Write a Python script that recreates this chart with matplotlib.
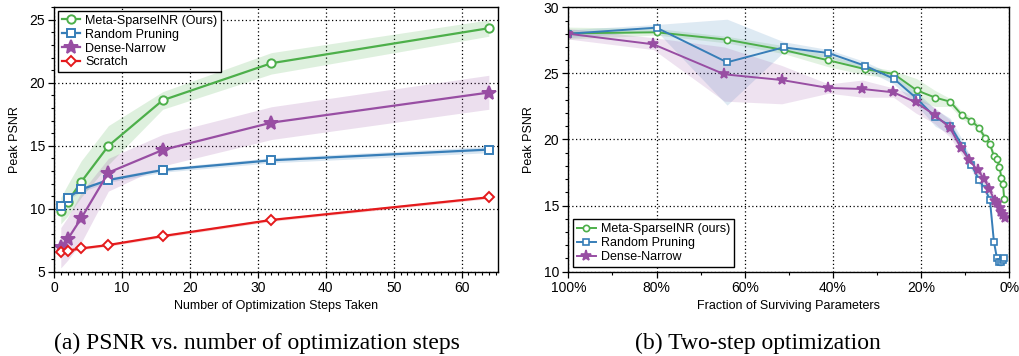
import numpy as np
import matplotlib
matplotlib.use("Agg")
import matplotlib.pyplot as plt
from matplotlib.ticker import MultipleLocator, FuncFormatter

plt.rcParams['font.family'] = ['Liberation Sans', 'DejaVu Sans']

GREEN = '#4daf4a'
BLUE = '#377eb8'
PURPLE = '#984ea3'
RED = '#e41a1c'

# (a) PSNR vs optimization steps
steps = [1, 2, 4, 8, 16, 32, 64]
meta_a = [9.85, 10.56, 12.13, 14.99, 18.62, 21.56, 24.34]
meta_a_lo = [8.8, 9.4, 10.9, 13.5, 17.9, 20.7, 23.7]
meta_a_hi = [10.9, 11.9, 13.8, 16.6, 19.3, 22.4, 25.0]
rand_a = [10.22, 10.88, 11.54, 12.28, 13.08, 13.85, 14.70]
rand_a_lo = [10.05, 10.7, 11.35, 12.1, 12.9, 13.65, 14.45]
rand_a_hi = [10.4, 11.05, 11.7, 12.45, 13.25, 14.05, 14.95]
dense_a = [6.99, 7.57, 9.24, 12.87, 14.67, 16.84, 19.23]
dense_a_lo = [5.3, 5.9, 7.3, 11.4, 13.4, 15.5, 17.9]
dense_a_hi = [8.5, 9.3, 11.3, 14.0, 15.9, 18.1, 20.6]
scratch_a = [6.54, 6.67, 6.85, 7.12, 7.83, 9.11, 10.91]
scratch_a_lo = [6.44, 6.57, 6.75, 7.02, 7.72, 9.0, 10.8]
scratch_a_hi = [6.64, 6.77, 6.95, 7.22, 7.94, 9.22, 11.02]

# (b) two-step optimization, x = % surviving parameters
frac_b = [100, 80, 64, 51.2, 41.0, 32.8, 26.2, 21.0, 16.8, 13.4, 10.7,
          8.6, 6.9, 5.5, 4.4, 3.5, 2.8, 2.25, 1.8, 1.44, 1.15]
meta_b = [28.03, 28.11, 27.55, 26.77, 25.99, 25.33, 24.96, 23.72, 23.17, 22.86,
          21.83, 21.42, 20.89, 20.14, 19.66, 18.75, 18.52, 17.94, 17.11, 16.61, 15.47]
meta_b_lo = [27.6, 27.9, 27.3, 26.5, 25.5, 24.9, 24.6, 22.9, 22.5, 22.5,
             21.55, 21.15, 20.6, 19.85, 19.35, 18.45, 18.2, 17.65, 16.8, 16.3, 15.2]
meta_b_hi = [28.5, 28.4, 27.8, 27.1, 26.4, 25.6, 25.2, 24.6, 23.7, 23.1,
             22.1, 21.7, 21.15, 20.4, 19.95, 19.05, 18.8, 18.2, 17.4, 16.9, 15.75]
rand_b = [28.0, 28.46, 25.84, 26.97, 26.54, 25.59, 24.6, 23.11, 21.68, 21.05,
          19.54, 18.1, 16.95, 16.24, 15.43, 12.28, 11.0, 10.72, 10.7, 10.85, 11.05]
rand_b_lo = [27.7, 28.2, 22.6, 26.6, 26.2, 25.3, 24.2, 22.6, 21.0, 20.4,
             19.1, 17.7, 16.6, 15.9, 15.0, 11.9, 10.6, 10.4, 10.4, 10.55, 10.8]
rand_b_hi = [28.3, 28.7, 29.1, 27.4, 26.8, 25.9, 24.9, 23.6, 22.3, 21.6,
             20.0, 18.5, 17.3, 16.6, 15.8, 12.7, 11.35, 11.0, 11.0, 11.15, 11.3]
frac_dense = [100, 80.7, 64.6, 51.6, 41.0, 33.3, 26.3, 21.2, 16.9, 13.5, 10.9,
              9.05, 7.17, 5.66, 4.52, 3.3, 2.7, 2.2, 1.8, 1.45, 1.05]
dense_b = [28.0, 27.2, 24.93, 24.5, 23.9, 23.82, 23.57, 22.81, 21.85, 20.9,
           19.33, 18.42, 17.66, 17.0, 16.24, 15.36, 15.17, 14.79, 14.5, 14.28, 14.03]
dense_b_lo = [27.6, 26.8, 22.9, 22.7, 23.5, 23.2, 23.2, 22.0, 21.2, 20.2,
              18.9, 18.0, 17.25, 16.6, 15.85, 14.95, 14.8, 14.4, 14.1, 13.9, 13.65]
dense_b_hi = [28.4, 27.7, 27.0, 25.6, 24.2, 24.5, 23.9, 23.3, 22.4, 21.5,
              19.75, 18.85, 18.05, 17.4, 16.65, 15.75, 15.55, 15.15, 14.9, 14.65, 14.4]


def style_axes(ax):
    ax.grid(True, which='major', color='black', linestyle=(0, (1, 2)), linewidth=0.9)
    ax.tick_params(which='major', direction='out', length=4, width=0.9, labelsize=10, pad=2.5)
    ax.tick_params(which='minor', direction='out', length=2.2, width=0.8)
    for s in ax.spines.values():
        s.set_linewidth(1.0)
    ax.set_axisbelow(True)


label_font = {'family': ['Liberation Sans Narrow', 'Liberation Sans'], 'size': 9}

fig = plt.figure(figsize=(10.19, 3.56), dpi=100)
ax1 = fig.add_axes([0.053, 0.2368, 0.4354, 0.7427])
ax2 = fig.add_axes([0.5577, 0.2368, 0.4328, 0.7427])

# --- panel (a)
series_a = [
    (meta_a, meta_a_lo, meta_a_hi, GREEN, 'o', 'Meta-SparseINR (Ours)', 6),
    (rand_a, rand_a_lo, rand_a_hi, BLUE, 's', 'Random Pruning', 6),
    (dense_a, dense_a_lo, dense_a_hi, PURPLE, '*', 'Dense-Narrow', 10),
    (scratch_a, scratch_a_lo, scratch_a_hi, RED, 'D', 'Scratch', 5),
]
for y, lo, hi, c, m, lab, ms in series_a:
    ax1.fill_between(steps, lo, hi, color=c, alpha=0.18, linewidth=0)
    face = c if m == '*' else 'white'
    ax1.plot(steps, y, color=c, marker=m, markersize=ms, markerfacecolor=face,
             markeredgecolor=c, markeredgewidth=1.4, linewidth=1.6, label=lab)

ax1.set_xlim(0, 65.3)
ax1.set_ylim(5, 26)
ax1.xaxis.set_major_locator(MultipleLocator(10))
ax1.xaxis.set_minor_locator(MultipleLocator(1))
ax1.yaxis.set_major_locator(MultipleLocator(5))
ax1.yaxis.set_minor_locator(MultipleLocator(1))
style_axes(ax1)
ax1.set_xlabel('Number of Optimization Steps Taken', fontdict=label_font, labelpad=4)
ax1.set_ylabel('Peak PSNR', fontdict=label_font, labelpad=6)
leg1 = ax1.legend(loc='upper left', fontsize=9, fancybox=False, framealpha=1,
                  edgecolor='black', handlelength=1.5, handletextpad=0.4,
                  borderpad=0.3, labelspacing=0.15, borderaxespad=0.3)
leg1.get_frame().set_linewidth(1.0)

# --- panel (b)
series_b = [
    (frac_b, meta_b, meta_b_lo, meta_b_hi, GREEN, 'o', 'Meta-SparseINR (ours)', 4.5),
    (frac_b, rand_b, rand_b_lo, rand_b_hi, BLUE, 's', 'Random Pruning', 4.5),
    (frac_dense, dense_b, dense_b_lo, dense_b_hi, PURPLE, '*', 'Dense-Narrow', 8),
]
for x, y, lo, hi, c, m, lab, ms in series_b:
    ax2.fill_between(x, lo, hi, color=c, alpha=0.16, linewidth=0)
    face = c if m == '*' else 'white'
    ax2.plot(x, y, color=c, marker=m, markersize=ms, markerfacecolor=face,
             markeredgecolor=c, markeredgewidth=1.2, linewidth=1.4, label=lab)

ax2.set_xlim(100, 0)
ax2.set_ylim(10, 30)
ax2.xaxis.set_major_locator(MultipleLocator(20))
ax2.xaxis.set_minor_locator(MultipleLocator(10))
ax2.xaxis.set_major_formatter(FuncFormatter(lambda v, p: f'{v:.0f}%'))
ax2.yaxis.set_major_locator(MultipleLocator(5))
ax2.yaxis.set_minor_locator(MultipleLocator(1))
style_axes(ax2)
ax2.set_xlabel('Fraction of Surviving Parameters', fontdict=label_font, labelpad=4)
ax2.set_ylabel('Peak PSNR', fontdict=label_font, labelpad=6)
leg2 = ax2.legend(loc='lower left', fontsize=9, fancybox=False, framealpha=1,
                  edgecolor='black', handlelength=1.5, handletextpad=0.4,
                  borderpad=0.3, labelspacing=0.15, borderaxespad=0.4)
leg2.get_frame().set_linewidth(1.0)

# captions
cap = {'family': ['Liberation Serif', 'DejaVu Serif'], 'size': 17}
fig.text(0.252, 0.02, '(a) PSNR vs. number of optimization steps', fontdict=cap,
         ha='center', va='baseline')
fig.text(0.744, 0.02, '(b) Two-step optimization', fontdict=cap,
         ha='center', va='baseline')

fig.savefig('out.png', dpi=100)
